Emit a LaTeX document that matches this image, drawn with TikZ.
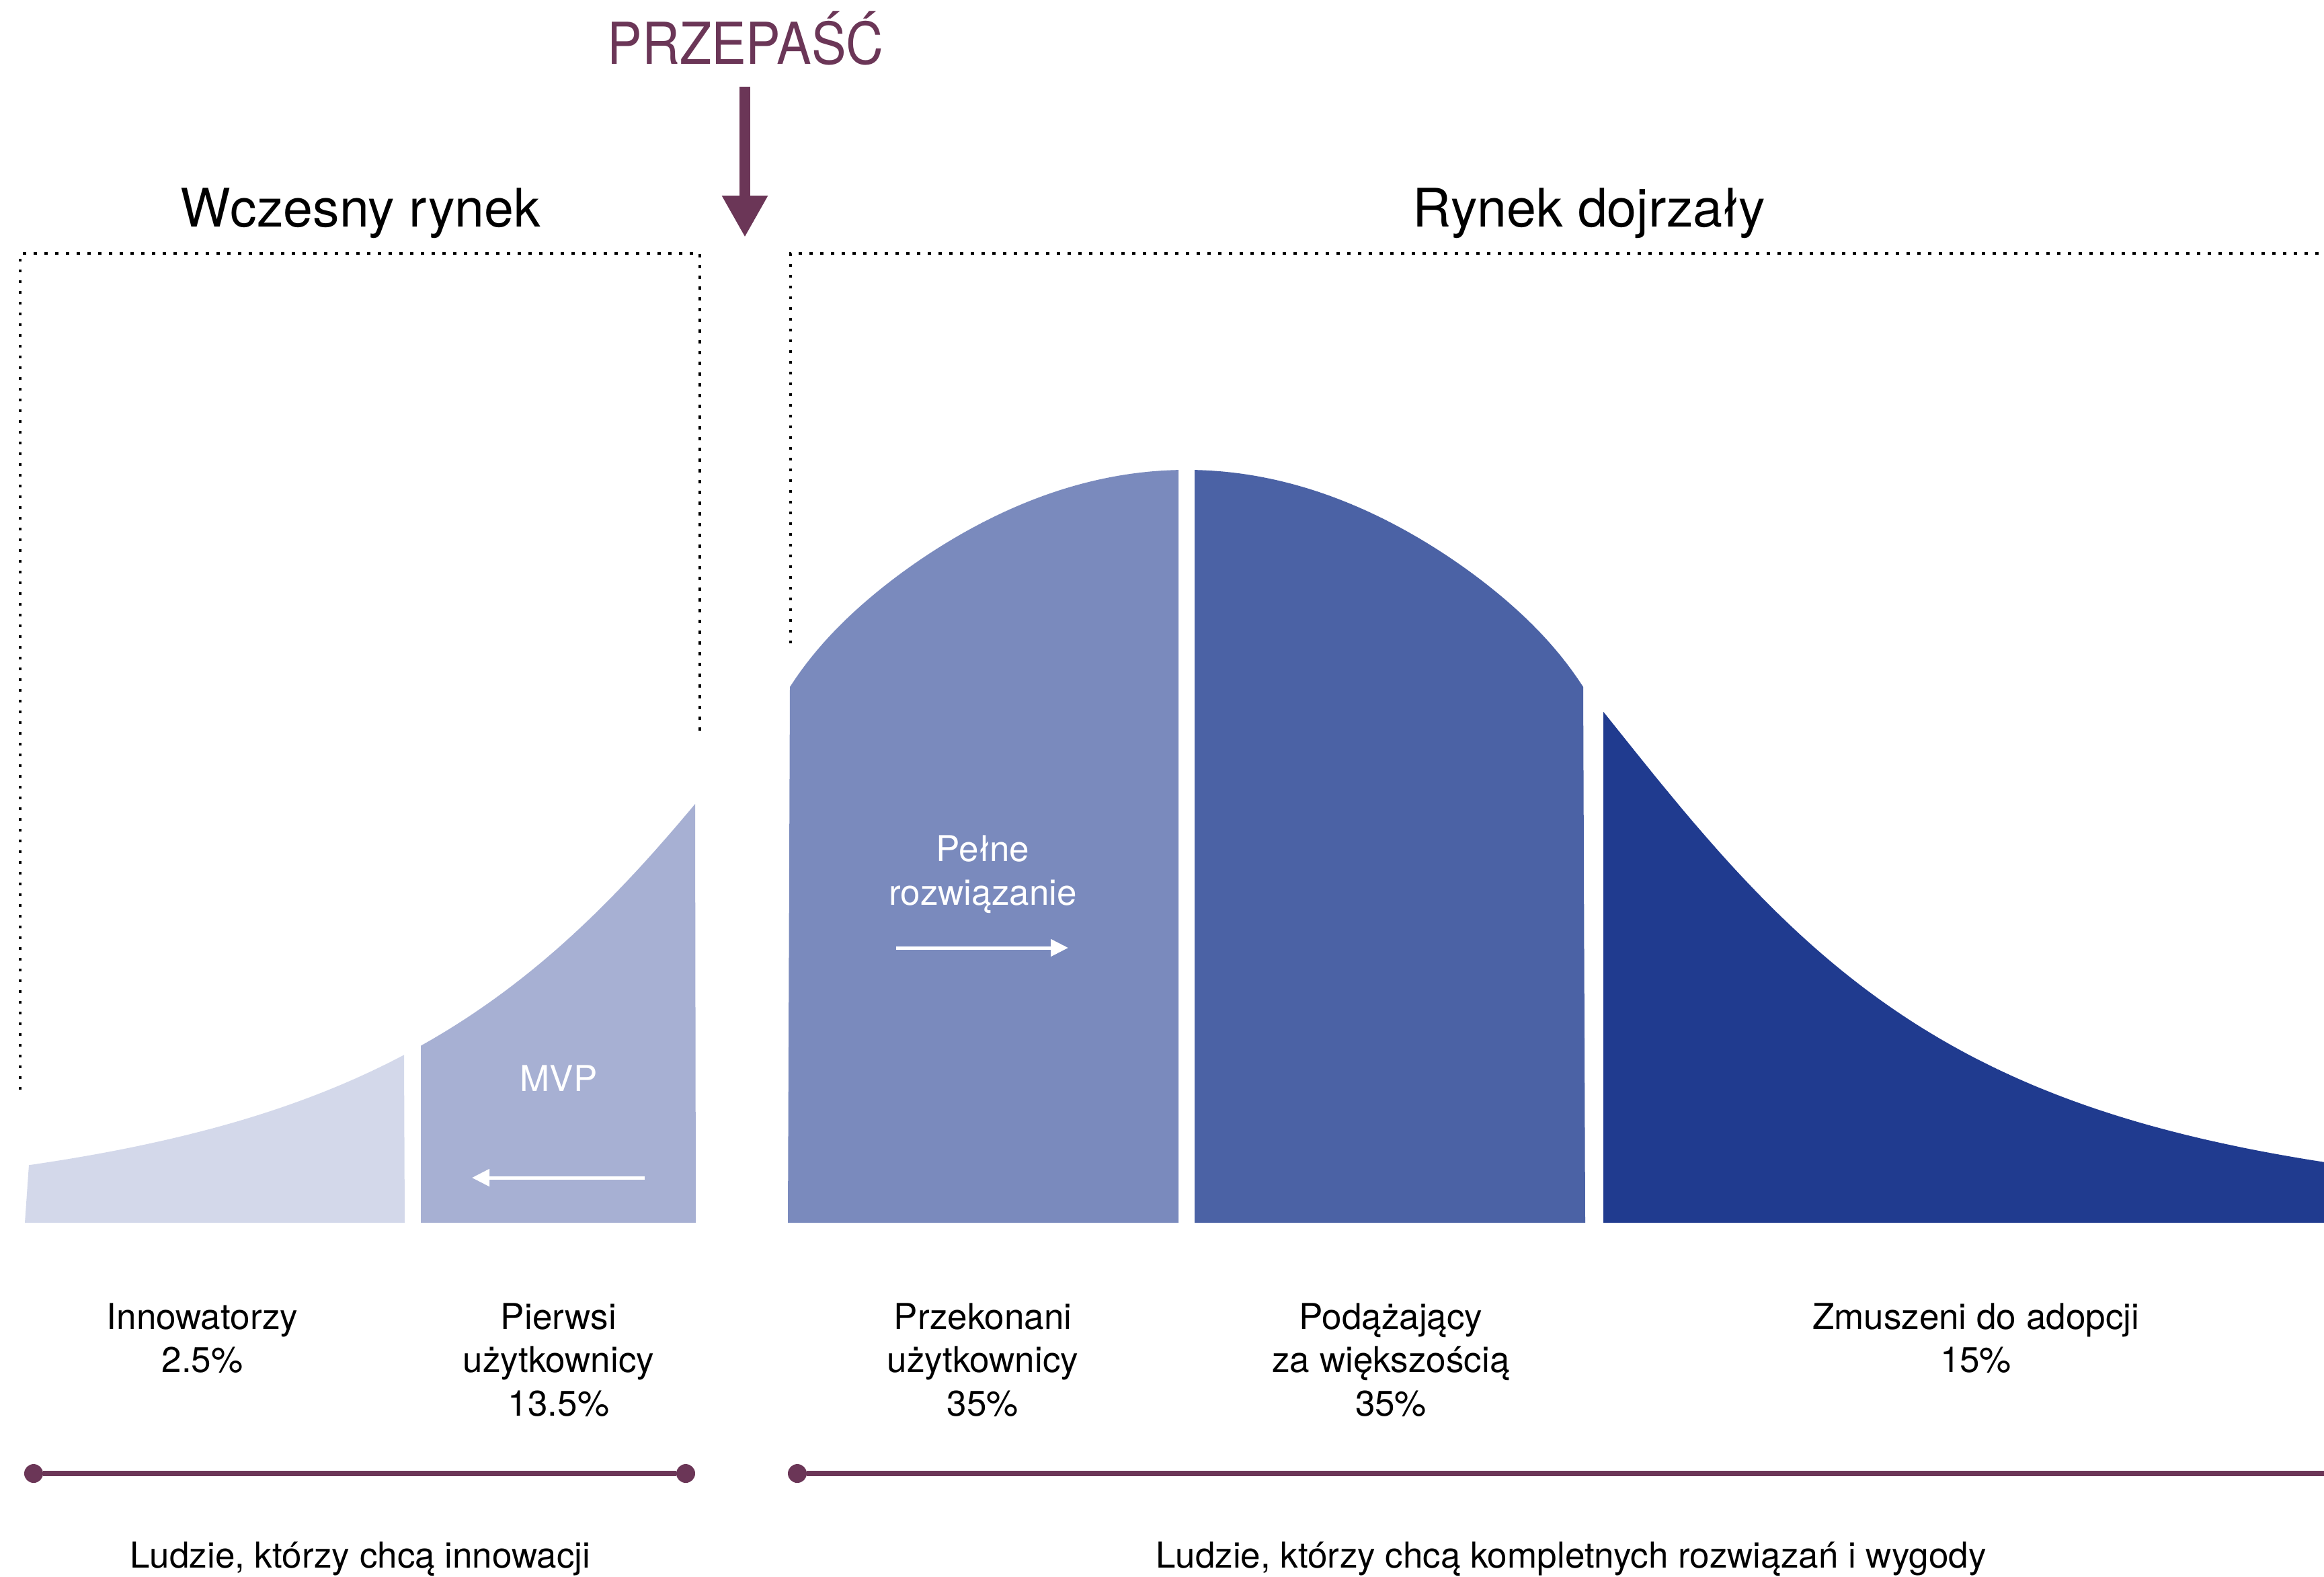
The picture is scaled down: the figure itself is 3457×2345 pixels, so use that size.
\documentclass[tikz,border=0pt]{standalone}
\usepackage{fontspec}
\setmainfont{TeX Gyre Heros}
\usepackage{tikz}
\usetikzlibrary{
    arrows.meta,
    calc,
    positioning
}
\definecolor{innovblue}{HTML}{D3D8EA}
\definecolor{earlyblue}{HTML}{A7B0D3}
\definecolor{majorblue}{HTML}{7A8ABD}
\definecolor{lateblue}{HTML}{4B62A5}
\definecolor{lagblue}{HTML}{203B8F}
\definecolor{chasmred}{HTML}{6B3657}
\tikzset{
    declare function={
        % the two tails and the top of the curve
        tail(\x)=1819-1120/(1+pow(abs(\x-1765)/785,3.17));
        hump(\x)=699+8.5*((\x-1765)/100)^2+pow(abs(\x-1765)/448.3,12);
    },
    title text/.style={
        font=\fontsize{79}{95}\selectfont, anchor=base
    },
    group text/.style={
        font=\fontsize{53}{64.5}\selectfont, align=center, anchor=base
    },
    inner text/.style={
        group text, text=white
    },
    dotbox/.style={
        line width=4.5pt, dash pattern=on 4.5pt off 11.5pt
    },
    bullet/.style={
        circle, fill=chasmred, inner sep=0pt, minimum size=28pt
    },
    timeline/.style={
        draw=chasmred, line width=8pt
    },
    white arrow/.style={
        draw=white, line width=5pt, -{Triangle[length=26pt,width=25pt]}
    },
    chasm arrow/.style={
        draw=chasmred, line width=16pt, -{Triangle[length=62pt,width=64pt]}
    },
}

\begin{document}
\begin{tikzpicture}[x=1pt, y=-1pt]
    \useasboundingbox (0,0) rectangle (3457,2345);

    % bell curve, one piece per group
    \fill[innovblue] (37,1819) -- plot[domain=43:601, samples=60] (\x, {tail(\x)}) -- (602,1819) -- cycle;
    \fill[earlyblue] (626,1819) -- plot[domain=626:1034, samples=50] (\x, {tail(\x)}) -- (1035,1819) -- cycle;
    \fill[majorblue] (1172,1819) -- plot[domain=1175:1753, samples=70] (\x, {hump(\x)}) -- (1753,1819) -- cycle;
    \fill[lateblue] (1777,1819) -- plot[domain=1777:2355, samples=70] (\x, {hump(\x)}) -- (2358,1819) -- cycle;
    \fill[lagblue] (2385,1819) -- plot[domain=2385:3457, samples=100] (\x, {tail(\x)}) -- (3457,1819) -- cycle;

    % dotted frames
    \draw[dotbox] (30,1621) -- (30,377) -- (1041,377) -- (1041,1096);
    \draw[dotbox] (1176,957) -- (1176,377) -- (3457,377);

    % chasm
    \path
      coordinate (chasm top) at (1108,129)
      coordinate (chasm tip) at (1108,353)
    ;
    \node[anchor=base, text=chasmred, font=\fontsize{86}{100}\selectfont] (chasm) at (1109,95) {\scalebox{0.9}[1]{PRZEPAŚĆ}};
    \draw[chasm arrow] (chasm top) -- (chasm tip);

    \node[title text] (early market) at (536,337) {Wczesny rynek};
    \node[title text] (main market) at (2364,337) {Rynek dojrzały};

    % texts inside the curve
    \node[inner text] (mvp) at (831,1623) {MVP};
    \node[inner text] (whole product) at (1462,1346) {Pełne\\rozwiązanie};
    \path
      coordinate (mvp_s) at (959,1752)
      coordinate (mvp_t) at (702,1752)
      coordinate (whole_s) at (1333,1410)
      coordinate (whole_t) at (1589,1410)
    ;
    \draw[white arrow] (mvp_s) -- (mvp_t);
    \draw[white arrow] (whole_s) -- (whole_t);

    % groups (base = last line)
    \node[group text] (innovators) at (301,2041.5) {Innowatorzy\\2.5\%};
    \node[group text] (adopters) at (831,2106) {Pierwsi\\użytkownicy\\13.5\%};
    \node[group text] (early majority) at (1462,2106) {Przekonani\\użytkownicy\\35\%};
    \node[group text] (late majority) at (2069,2106) {Podążający\\za większością\\35\%};
    \node[group text] (laggards) at (2939,2041.5) {Zmuszeni do adopcji\\15\%};

    % who they are
    \node[bullet] (b_1) at (50,2192) {};
    \node[bullet] (b_2) at (1020,2192) {};
    \node[bullet] (b_3) at (1186,2192) {};
    \coordinate (b_end) at (3457,2192);
    \draw[timeline] (b_1) -- (b_2);
    \draw[timeline] (b_3) -- (b_end);
    \node[group text] (innovation) at (536,2332) {Ludzie, którzy chcą innowacji};
    \node[group text] (convenience) at (2337,2332) {Ludzie, którzy chcą kompletnych rozwiązań i wygody};
\end{tikzpicture}
\end{document}
